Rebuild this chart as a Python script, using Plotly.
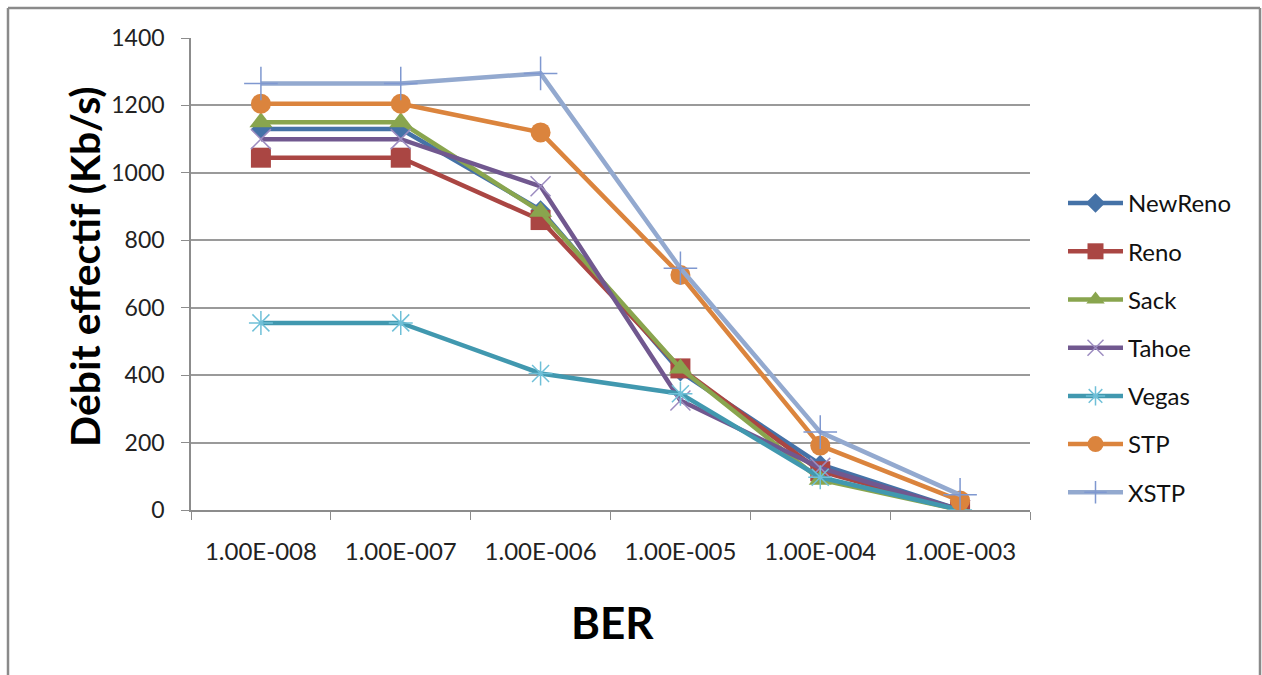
import plotly.graph_objects as go

categories = ["1.00E-008", "1.00E-007", "1.00E-006", "1.00E-005", "1.00E-004", "1.00E-003"]

newreno = [1130, 1130, 890, 410, 135, 0]
reno = [1045, 1045, 860, 420, 115, 0]
sack = [1150, 1150, 885, 420, 90, 0]
tahoe = [1100, 1100, 960, 325, 125, 0]
vegas = [555, 555, 405, 345, 97, 0]
stp = [1205, 1205, 1120, 697, 191, 28]
xstp = [1265, 1265, 1295, 717, 231, 45]

series = [
    ("NewReno", newreno, "#4572A7", dict(symbol="diamond", size=15, color="#4572A7")),
    ("Reno", reno, "#AA4643", dict(symbol="square", size=20, color="#AA4643")),
    ("Sack", sack, "#89A54E", dict(symbol="triangle-up", size=20, color="#89A54E")),
    ("Tahoe", tahoe, "#71588F", dict(symbol="x-thin-open", size=20, color="#9C8CC0",
                                      line=dict(width=1.5, color="#9C8CC0"))),
    ("Vegas", vegas, "#4198AF", dict(symbol="asterisk-open", size=20, color="#6FC0D8",
                                      line=dict(width=1.5, color="#6FC0D8"))),
    ("STP", stp, "#DB843D", dict(symbol="circle", size=20, color="#DB843D")),
    ("XSTP", xstp, "#93A9CF", dict(symbol="cross-thin-open", size=24, color="#7F98D0",
                                    line=dict(width=1.5, color="#7F98D0"))),
]

FONT = "Lato, 'Open Sans', sans-serif"

fig = go.Figure()
for i, (name, vals, col, mk) in enumerate(series):
    fig.add_trace(go.Scatter(
        x=categories, y=vals, name=name, mode="lines+markers",
        line=dict(color=col, width=4.5), marker=mk,
        legendgroup=f"g{i}",
    ))

W, H = 1262, 675
L, R, T, B = 191, 1030, 38, 510
pw, ph = R - L, B - T


def px(x):
    return (x - L) / pw


def py(y):
    return (B - y) / ph


fig.update_layout(
    width=W, height=H,
    margin=dict(l=L, r=W - R, t=T, b=H - B, pad=0),
    paper_bgcolor="white", plot_bgcolor="white",
    font=dict(family=FONT, color="#222222"),
    showlegend=True,
    legend=dict(
        x=px(1063), y=py(181), xanchor="left", yanchor="top",
        font=dict(size=24, family=FONT, color="#111111"),
        tracegroupgap=14, itemwidth=55,
        bgcolor="rgba(0,0,0,0)",
    ),
    xaxis=dict(
        type="category", range=[-0.5, 5.5],
        showgrid=False, showline=True, linecolor="#8c8c8c", linewidth=1.5,
        ticks="outside", tickson="boundaries", ticklen=8, tickcolor="#8c8c8c",
        tickfont=dict(size=24, family=FONT, color="#222222"),
        ticklabelstandoff=19,
    ),
    yaxis=dict(
        range=[0, 1400], dtick=200, tick0=0,
        showgrid=True, gridcolor="#9a9a9a", gridwidth=1.5,
        showline=True, linecolor="#8c8c8c", linewidth=1.5,
        ticks="outside", ticklen=8, tickcolor="#8c8c8c",
        tickfont=dict(size=23, family=FONT, color="#222222"),
        ticklabelstandoff=12, zeroline=False,
    ),
    annotations=[
        dict(text="<b>Débit effectif (Kb/s)</b>", xref="paper", yref="paper",
             x=px(84), y=py(266), textangle=-90, showarrow=False,
             font=dict(size=41, family=FONT, color="#000000"),
             xanchor="center", yanchor="middle"),
        dict(text="<b>BER</b>", xref="paper", yref="paper",
             x=px(612), y=py(622), showarrow=False,
             font=dict(size=44, family=FONT, color="#000000"),
             xanchor="center", yanchor="middle"),
    ],
    shapes=[
        dict(type="line", xref="paper", yref="paper", x0=px(8), x1=px(8), y0=py(8), y1=py(700),
             line=dict(color="#8a8a8a", width=2.5)),
        dict(type="line", xref="paper", yref="paper", x0=px(8), x1=px(1260), y0=py(8), y1=py(8),
             line=dict(color="#8a8a8a", width=2.5)),
        dict(type="line", xref="paper", yref="paper", x0=px(1260), x1=px(1260), y0=py(8), y1=py(700),
             line=dict(color="#8a8a8a", width=2.5)),
    ],
)

fig.write_html("out.html")
